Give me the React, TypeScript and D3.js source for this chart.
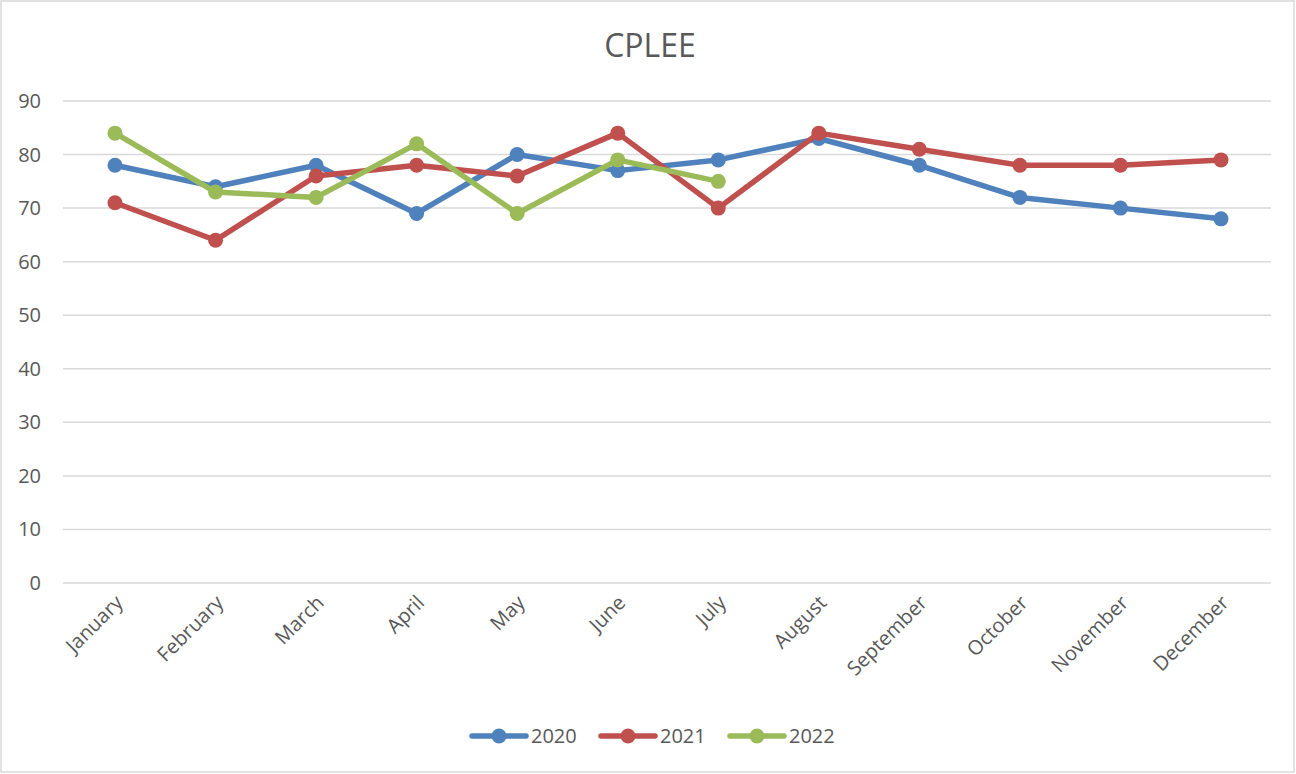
import React from "react";
import * as d3 from "d3";

const months = ["January","February","March","April","May","June","July","August","September","October","November","December"];
const s2020 = [78,74,78,69,80,77,79,83,78,72,70,68];
const s2021 = [71,64,76,78,76,84,70,84,81,78,78,79];
const s2022 = [84,73,72,82,69,79,75];
const yTicks = [0,10,20,30,40,50,60,70,80,90];
const seriesNames = ["2020","2021","2022"];
const colors = ["#4F81BD","#C0504D","#9BBB59"];

export default function App() {
  const W = 1296, H = 774;
  const x = d3.scalePoint<string>().domain(months).range([115, 1221]);
  const y = d3.scaleLinear().domain([0, 90]).range([583, 101]);
  const series = [s2020, s2021, s2022];
  const line = d3.line<number>().x((_, i) => x(months[i])!).y(d => y(d));
  const font = "'Open Sans', sans-serif";
  const legendX = [472, 601, 730];
  return (
    <div style={{ position: "fixed", left: 0, top: 0 }}>
      <svg width={W} height={H} style={{ display: "block" }}>
        <rect x={0} y={0} width={W} height={H} fill="#fff" />
        <rect x={1} y={1} width={W - 3} height={H - 3} fill="none" stroke="#d9d9d9" strokeWidth={1.5} />
        <text x={650} y={57} textAnchor="middle" fontFamily={font} fontSize={32} fill="#595959">CPLEE</text>
        {yTicks.map(t => (
          <g key={t}>
            <line x1={63} x2={1271} y1={y(t)} y2={y(t)} stroke="#d9d9d9" strokeWidth={1.5} />
            <text x={41} y={y(t) + 7} textAnchor="end" fontFamily={font} fontSize={20} fill="#595959">{t}</text>
          </g>
        ))}
        {months.map(m => (
          <text key={m} transform={`translate(${x(m)! + 9},${604}) rotate(-45)`} textAnchor="end" fontFamily={font} fontSize={20} fill="#595959">{m}</text>
        ))}
        {series.map((s, k) => (
          <g key={k}>
            <path d={line(s)!} fill="none" stroke={colors[k]} strokeWidth={5.5} strokeLinejoin="round" strokeLinecap="round" />
            {s.map((v, i) => (
              <circle key={i} cx={x(months[i])!} cy={y(v)} r={7.5} fill={colors[k]} />
            ))}
          </g>
        ))}
        {seriesNames.map((n, k) => (
          <g key={n}>
            <line x1={legendX[k]} x2={legendX[k] + 54} y1={736} y2={736} stroke={colors[k]} strokeWidth={5.5} strokeLinecap="round" />
            <circle cx={legendX[k] + 27} cy={736} r={7.5} fill={colors[k]} />
            <text x={legendX[k] + 59} y={743} fontFamily={font} fontSize={20} fill="#595959">{n}</text>
          </g>
        ))}
      </svg>
    </div>
  );
}
